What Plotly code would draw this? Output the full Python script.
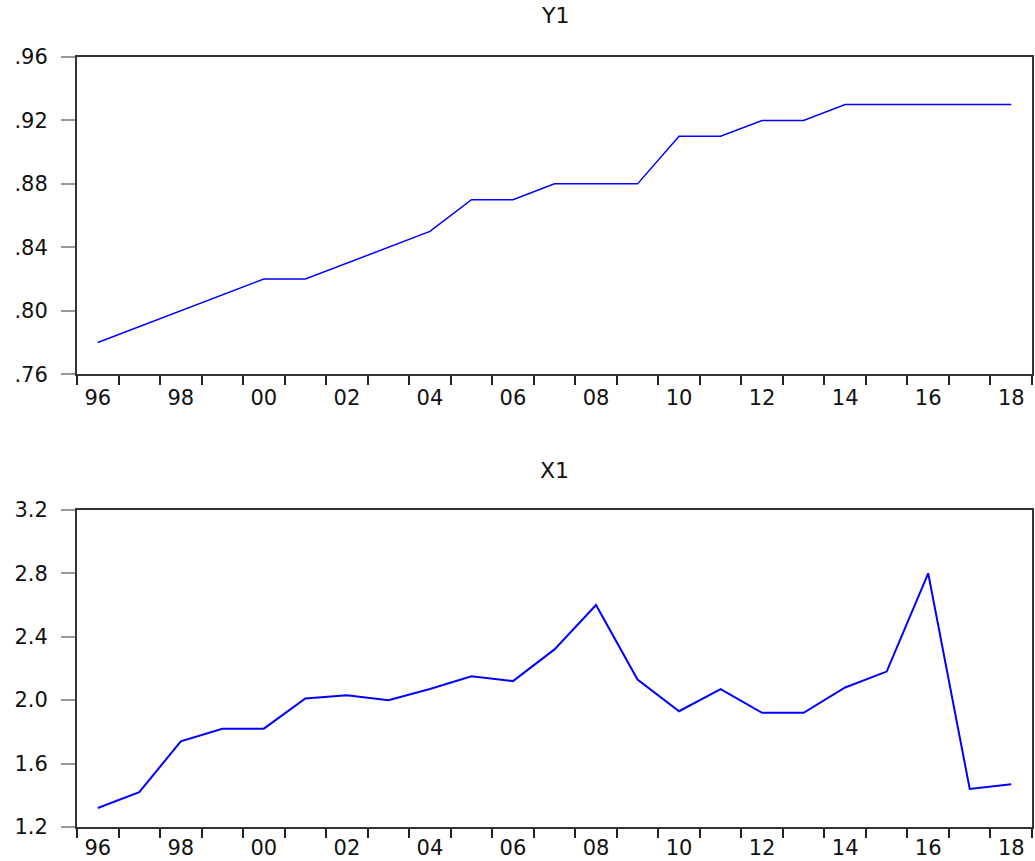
import plotly.graph_objects as go
from plotly.subplots import make_subplots

years = list(range(1996, 2019))
y1 = [0.78, 0.79, 0.80, 0.81, 0.82, 0.82, 0.83, 0.84, 0.85, 0.87, 0.87, 0.88,
      0.88, 0.88, 0.91, 0.91, 0.92, 0.92, 0.93, 0.93, 0.93, 0.93, 0.93]
x1 = [1.32, 1.42, 1.74, 1.82, 1.82, 2.01, 2.03, 2.00, 2.07, 2.15, 2.12, 2.32,
      2.60, 2.13, 1.93, 2.07, 1.92, 1.92, 2.08, 2.18, 2.80, 1.44, 1.47]

x_tick_years = [1996, 1998, 2000, 2002, 2004, 2006, 2008, 2010, 2012, 2014, 2016, 2018]
x_tick_text = ["96", "98", "00", "02", "04", "06", "08", "10", "12", "14", "16", "18"]
y1_ticks = [0.76, 0.80, 0.84, 0.88, 0.92, 0.96]
y1_text = [".76", ".80", ".84", ".88", ".92", ".96"]
x1_ticks = [1.2, 1.6, 2.0, 2.4, 2.8, 3.2]
x1_text = ["1.2", "1.6", "2.0", "2.4", "2.8", "3.2"]

boundaries = [y - 0.5 for y in years] + [years[-1] + 0.5]

FONT = "DejaVu Sans"

fig = make_subplots(rows=2, cols=1)
fig.add_trace(go.Scatter(x=years, y=y1, mode="lines",
                         line=dict(color="#0000ff", width=1.5), showlegend=False),
              row=1, col=1)
fig.add_trace(go.Scatter(x=years, y=x1, mode="lines",
                         line=dict(color="#0000ff", width=2), showlegend=False),
              row=2, col=1)

xcommon = dict(
    range=[years[0] - 0.5, years[-1] + 0.5],
    tickmode="array", tickvals=x_tick_years, ticktext=x_tick_text,
    ticks="outside", ticklen=1, tickcolor="rgba(0,0,0,0)",
    minor=dict(tickmode="array", tickvals=boundaries, ticks="outside",
               ticklen=9, tickcolor="#222", tickwidth=1.5, showgrid=False),
    showline=True, mirror=True, linecolor="#333", linewidth=2,
    showgrid=False, zeroline=False,
    tickfont=dict(family=FONT, size=21, color="#111"),
)
ycommon = dict(
    tickmode="array", ticks="outside", ticklen=14, tickcolor="#999", tickwidth=2,
    showline=True, mirror=True, linecolor="#333", linewidth=2,
    showgrid=False, zeroline=False, ticklabelstandoff=9,
    tickfont=dict(family=FONT, size=21, color="#111"),
)

fig.update_layout(
    width=1035, height=861,
    margin=dict(l=77, r=1, t=57, b=32),
    plot_bgcolor="white", paper_bgcolor="white",
    xaxis=dict(domain=[0, 1], ticklabelstandoff=3, **xcommon),
    xaxis2=dict(domain=[0, 1], ticklabelstandoff=0, **xcommon),
    yaxis=dict(domain=[0.5881, 1.0], range=[0.76, 0.96],
               tickvals=y1_ticks, ticktext=y1_text, **ycommon),
    yaxis2=dict(domain=[0.0, 0.4119], range=[1.2, 3.2],
                tickvals=x1_ticks, ticktext=x1_text, **ycommon),
    annotations=[
        dict(text="Y1", x=0.5, y=1.0544, xref="paper", yref="paper",
             showarrow=False, font=dict(family=FONT, size=22, color="#111"),
             xanchor="center", yanchor="middle"),
        dict(text="X1", x=0.5, y=0.4624, xref="paper", yref="paper",
             showarrow=False, font=dict(family=FONT, size=22, color="#111"),
             xanchor="center", yanchor="middle"),
    ],
)

fig.write_html("out.html",
               config={"displayModeBar": False},
               post_script="document.body.style.margin='0';document.body.style.overflow='hidden';")
